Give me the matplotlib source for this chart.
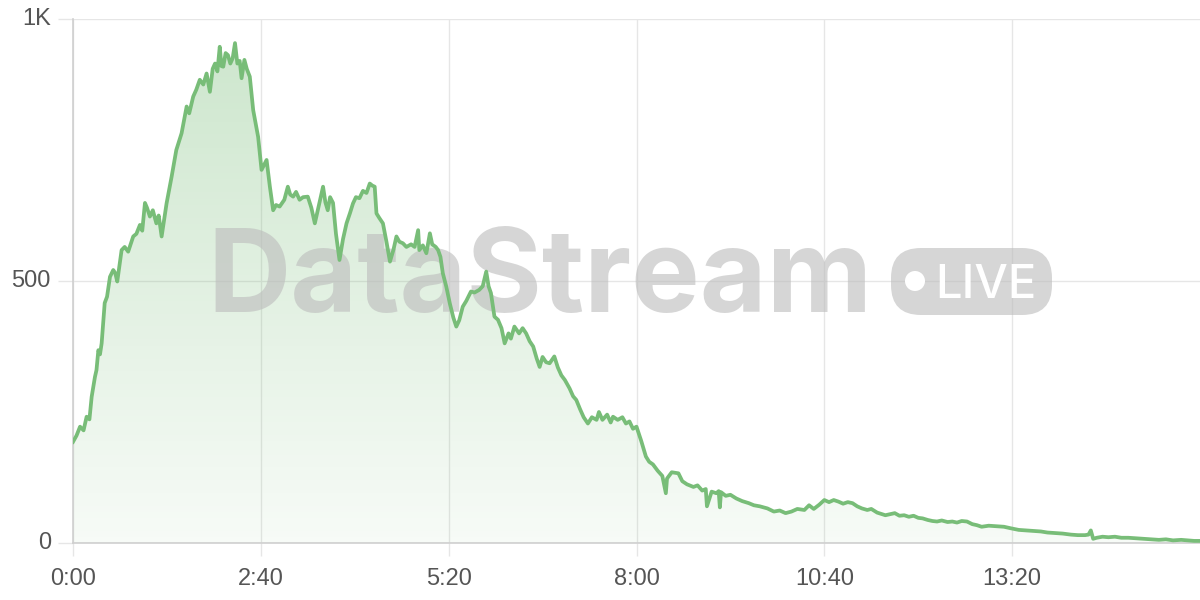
import numpy as np
import matplotlib
matplotlib.use("Agg")
import matplotlib.pyplot as plt
from matplotlib.patches import Polygon, FancyBboxPatch, Circle
from matplotlib.transforms import IdentityTransform

# temps en secondes / valeurs
t_sec = [0, 3, 6, 9, 11.6, 14, 15.9, 18.7, 20, 21.6, 23, 24.4, 27, 29, 31.5, 34.3, 36, 37.7,
         41.4, 44, 47, 51.3, 54, 57, 59, 61.3, 63, 65.5, 68, 71, 73, 75.5, 79.7, 84, 88, 92.5,
         96.8, 99, 102.4, 105, 108, 111, 113.8, 116.6, 119, 121, 123, 125, 126.5, 128, 130, 132,
         134, 136, 138, 140, 142, 143.6, 146, 148, 150.6, 153.5, 157.7, 160.6, 164.9, 167.7,
         170.5, 173, 176, 180, 183, 185, 187.5, 190, 193, 196, 200, 203, 206, 210, 213, 215, 217,
         219, 221.5, 224, 227, 230, 233, 236, 238.5, 241, 244, 247, 250, 252.8, 255, 257, 258.5,
         261, 264, 267, 270, 273, 275.5, 278, 281, 284, 288, 291, 294, 295, 298, 301, 304, 306,
         309, 311, 313, 315, 318, 321, 324, 326.5, 329, 332, 335, 339, 342, 346, 349, 352, 354,
         356, 359, 362, 365, 367.7, 371, 373, 376, 380, 383, 386, 389, 392, 395, 397.5, 400, 403,
         406, 410, 413, 416, 419, 423, 426, 428.7, 432, 435, 438.6, 442, 446, 448, 451, 455, 458,
         460, 464, 468, 471, 474, 477, 480, 484, 488, 490.8, 494, 498, 502, 505, 506, 510, 515.7,
         519, 523, 528.5, 532, 536, 539, 540, 544, 548, 550, 551, 552, 556, 560, 565, 570, 575.7,
         580, 585, 591.5, 597, 602, 607, 612, 617, 623, 627, 631, 635.6, 640, 644, 648, 652, 656,
         660, 664, 668, 672, 676.6, 680, 685, 692, 696, 700, 704, 708, 712, 716, 720, 723.7, 728,
         732, 736, 740, 745, 749, 753, 757, 761.5, 766, 770, 774, 780, 786, 793, 799, 805.6, 812,
         818, 824.5, 830, 836, 843, 850, 856, 862, 865, 867, 869, 872, 877, 882, 887.5, 893, 899,
         906, 912, 918, 925, 931, 937, 944, 950, 955, 960]
values = [193, 205, 222, 215, 241, 236, 279, 317, 330, 368, 360, 381, 458, 470, 508, 521, 515, 499,
          559, 565, 556, 585, 590, 607, 596, 649, 640, 623, 635, 610, 625, 585, 648, 699, 750, 782,
          833, 820, 852, 865, 884, 875, 896, 861, 905, 915, 900, 947, 910, 909, 935, 931,
          915, 925, 954, 915, 920, 887, 922, 905, 890, 826, 775, 712, 731, 680,
          635, 645, 642, 655, 680, 665, 661, 670, 655, 660, 661, 640, 610, 650, 680, 650, 635,
          660, 649, 590, 540, 580, 610, 630, 648, 660, 658, 672, 668, 686, 682, 680, 629,
          620, 610, 575, 537, 560, 585, 575, 572, 565, 570, 565, 597, 559, 568, 553, 591, 570,
          565, 559, 546, 515, 489, 457, 430, 413, 425, 451, 462, 480, 478, 483, 490, 518, 490,
          477, 432, 426, 410, 381, 400, 390, 413, 400, 410, 400, 385, 375, 352, 336, 355, 345,
          343, 356, 335, 320, 311, 295, 280, 273, 255, 240, 228, 240, 235, 250, 235, 245, 230,
          241, 235, 240, 228, 232, 218, 222, 195, 165, 155, 150, 138, 128, 95, 123, 135, 133,
          118, 112, 107, 110, 100, 103, 70, 98, 95, 99, 68, 97, 90, 92, 85, 80, 76,
          72, 70, 66, 60, 62, 57, 60, 65, 63, 72, 65, 73, 82, 78, 82, 79, 75,
          78, 76, 70, 66, 63, 65, 58, 53, 55, 57, 52, 53, 50, 52, 48, 47, 44,
          42, 41, 43, 40, 41, 39, 42, 41, 36, 34, 31, 33, 32, 31, 28, 25, 24,
          23, 22, 20, 19, 18, 16, 15, 15, 16, 24, 8, 10, 12, 11, 12, 10, 10,
          9, 8, 7, 6, 7, 5, 6, 5, 4, 4]

tick_sec = [0, 160, 320, 480, 640, 800]
tick_labels = ["0:00", "2:40", "5:20", "8:00", "10:40", "13:20"]
y_ticks = [0, 500, 1000]
y_labels = ["0", "500", "1K"]

green = (0.47, 0.74, 0.47)
grid_c = "#e6e6e6"
axis_c = "#cfcfcf"

plt.rcParams["font.family"] = ["Liberation Sans", "DejaVu Sans"]

fig = plt.figure(figsize=(12, 6), dpi=100)
ax = fig.add_axes([73 / 1200, 57 / 600, 1 - 73 / 1200, (543 - 19) / 600])
ax.set_xlim(0, 960)
ax.set_ylim(0, 1000)

# remplissage en dégradé
n = 256
rgba = np.zeros((n, 1, 4))
rgba[..., 0], rgba[..., 1], rgba[..., 2] = green
rgba[..., 3] = np.linspace(0.06, 0.38, n).reshape(-1, 1)
im = ax.imshow(rgba, extent=[0, 960, 0, 1000], origin="lower", aspect="auto", zorder=1)
verts = np.column_stack([np.r_[t_sec, t_sec[-1], t_sec[0]], np.r_[values, 0, 0]])
clip = Polygon(verts, closed=True, facecolor="none", edgecolor="none", transform=ax.transData)
ax.add_patch(clip)
im.set_clip_path(clip)

ax.plot(t_sec, values, color=green, lw=2.7, solid_joinstyle="round", zorder=4)

# grille et axes
ax.set_xticks(tick_sec)
ax.set_xticklabels(tick_labels)
ax.set_yticks(y_ticks)
ax.set_yticklabels(y_labels)
ax.grid(True, color=grid_c, lw=1, zorder=0)
ax.set_axisbelow(True)
for s in ["top", "right"]:
    ax.spines[s].set_visible(False)
ax.spines["left"].set_color(axis_c)
ax.spines["bottom"].set_color(axis_c)
ax.spines["left"].set_linewidth(1.2)
ax.spines["bottom"].set_linewidth(1.2)
ax.tick_params(axis="x", length=9, width=1, color=grid_c, pad=9, labelsize=17, labelcolor="#555555")
ax.tick_params(axis="y", length=11, width=1, color=grid_c, pad=5, labelsize=17, labelcolor="#555555")
for lab in ax.get_yticklabels():
    lab.set_verticalalignment("center")

# filigrane
wm_c = "#bdbdbd"
ax.text(207 / 1200, 1 - 312 / 600, "DataStream", transform=fig.transFigure, fontsize=83,
        fontweight="bold", family=["Inter", "DejaVu Sans"], color=wm_c, alpha=0.62,
        ha="left", va="baseline", zorder=3, clip_on=False)
badge = FancyBboxPatch((891, 600 - 315), 161, 67, boxstyle="round,pad=0,rounding_size=30",
                       transform=IdentityTransform(), facecolor=wm_c, edgecolor="none",
                       alpha=0.62, zorder=3, clip_on=False)
ax.add_patch(badge)
dot = Circle((915, 600 - 281), 10, transform=IdentityTransform(), facecolor="white",
             edgecolor="none", zorder=3.5, clip_on=False)
ax.add_patch(dot)
ax.text(935 / 1200, 1 - 298 / 600, "LIVE", transform=fig.transFigure, fontsize=34,
        fontweight="medium", family=["Inter", "DejaVu Sans"], color="white",
        ha="left", va="baseline", zorder=3.5, clip_on=False)

fig.savefig("out.png", dpi=100)
